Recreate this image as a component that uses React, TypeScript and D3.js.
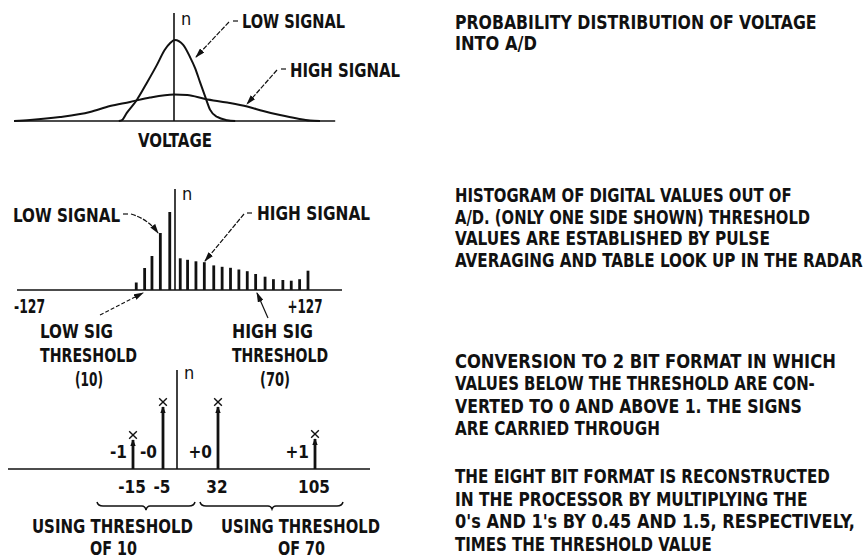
import React, { useLayoutEffect, useRef, useState } from 'react';
import * as d3 from 'd3';

// ---------- Panel 1: probability distribution of voltage (relative n, low-signal peak = 100)
const lowVoltage = [-1.38, -1.3, -1.18, -0.93, -0.68, -0.43, -0.23, -0.1, 0.02, 0.23, 0.4, 0.53, 0.65, 0.78, 0.9, 1.08, 1.33, 1.53];
const lowDensity = [0, 1, 10, 26, 47, 69, 88, 96, 100, 94, 79, 65, 48, 30, 14, 5, 1, 0];
const highVoltage = [-4, -3.6, -2.85, -2.1, -1.6, -1.1, -0.6, 0, 0.33, 0.78, 1.33, 1.83, 2.23, 2.65, 3.08, 3.4, 3.65];
const highDensity = [0, 1.2, 4.9, 11.1, 18.5, 23.5, 29, 32.7, 32.1, 27.2, 22.8, 17.9, 12.3, 7.4, 3.1, 0.6, 0];

// ---------- Panel 2: histogram of digital values out of A/D
const histValues = [-37, -29, -22, -14, -5, 5, 12, 20, 28, 37, 45, 53, 61, 69, 77, 86, 94, 103, 111, 119, 127];
const histCounts = [7.5, 22, 34, 57, 78, 31.7, 30.2, 28.7, 27.8, 24.6, 23.2, 22.2, 20.5, 18.8, 16, 13.3, 10.8, 10, 9.3, 10.8, 19.3];
const histTickValues = [-127, 127];
const histTickLabels = ['-127', '+127'];

// ---------- Panel 3: 2-bit format
const stemValues = [-15, -5, 32, 105];
const stemCodes = ['-1', '-0', '+0', '+1'];
const stemCounts = [31, 64, 64, 32];
const braceLabels = ['USING THRESHOLD', 'USING THRESHOLD'];
const braceSubLabels = ['OF 10', 'OF 70'];

// ---------- Right column text
const para1 = ['PROBABILITY DISTRIBUTION OF VOLTAGE', 'INTO A/D'];
const para2 = ['HISTOGRAM OF DIGITAL VALUES OUT OF', 'A/D. (ONLY ONE SIDE SHOWN) THRESHOLD', 'VALUES ARE ESTABLISHED BY PULSE', 'AVERAGING AND TABLE LOOK UP IN THE RADAR'];
const para3 = ['CONVERSION TO 2 BIT FORMAT IN WHICH', 'VALUES BELOW THE THRESHOLD ARE CON-', 'VERTED TO 0 AND ABOVE 1.  THE SIGNS', 'ARE CARRIED THROUGH'];
const para4 = ['THE EIGHT BIT FORMAT IS RECONSTRUCTED', 'IN THE PROCESSOR BY MULTIPLYING THE', "0's AND 1's BY 0.45 AND 1.5, RESPECTIVELY,", 'TIMES THE THRESHOLD VALUE'];

// layout: rendered line widths (px) of the right-column text
const para1W = [362, 82];
const para2W = [337, 355, 315, 408];
const para3W = [381, 360, 347, 205];
const para4W = [375, 353, 400, 257];

const FONT = "'Liberation Sans Narrow', 'DejaVu Sans Condensed', 'DejaVu Sans', sans-serif";
const INK = '#111';

// Text that is squeezed horizontally to a target width (measured, then scaled).
function T(props: { x: number; y: number; s: string; anchor?: string; size?: number; w?: number; weight?: string }) {
  const { x, y, s, anchor = 'start', size = 19, w, weight = 'bold' } = props;
  const ref = useRef<SVGTextElement>(null);
  const [k, setK] = useState(w ? 0.8 : 1);
  useLayoutEffect(() => {
    if (w && ref.current) {
      const n = ref.current.getComputedTextLength();
      if (n > 0) setK(w / n);
    }
  }, [w, s, size]);
  return (
    <text ref={ref} transform={`translate(${x},${y}) scale(${k},1)`} x={0} y={0} textAnchor={anchor}
      fontSize={size} fontFamily={FONT} fontWeight={weight} fill={INK}>{s}</text>
  );
}

export default function App() {
  // Panel 1 scales
  const xV = d3.scaleLinear().domain([-4, 4]).range([14, 334]);
  const yP = d3.scaleLinear().domain([0, 100]).range([121, 40]);
  const curve = d3.line<[number, number]>().x(d => xV(d[0])).y(d => yP(d[1])).curve(d3.curveMonotoneX);
  const lowPts = lowVoltage.map((v, i) => [v, lowDensity[i]] as [number, number]);
  const highPts = highVoltage.map((v, i) => [v, highDensity[i]] as [number, number]);

  // Panel 2 scales
  const xD = d3.scaleLinear().domain([-127, 127]).range([42, 308]);
  const yH = d3.scaleLinear().domain([0, 100]).range([290, 190]);

  // Panel 3 scales (schematic, piecewise)
  const xS = d3.scaleLinear().domain([-15, -5, 0, 32, 105]).range([133, 163, 177, 218, 315]);
  const yS = d3.scaleLinear().domain([0, 100]).range([469, 369]);
  const xMark = d3.symbol(d3.symbolX, 40)();

  const para = (lines: string[], widths: number[], y0: number, step: number, pk: string) =>
    lines.map((l, i) => <T key={pk + i} x={455} y={y0 + i * step} s={l} size={20} w={widths[i]} />);

  return (
    <svg width={866} height={560} style={{ position: 'absolute', left: 0, top: 0, background: '#fff' }}>
      <defs>
        <marker id="arr" viewBox="0 0 10 6" refX="9" refY="3" markerWidth="10" markerHeight="6" markerUnits="userSpaceOnUse" orient="auto">
          <path d="M0,0 L10,3 L0,6 z" fill={INK} />
        </marker>
        <marker id="arrS" viewBox="0 0 10 8" refX="9" refY="4" markerWidth="7" markerHeight="8" markerUnits="userSpaceOnUse" orient="auto">
          <path d="M0,0 L10,4 L0,8 z" fill={INK} />
        </marker>
      </defs>
      <rect x={0} y={0} width={866} height={560} fill="#fff" />

      {/* ---------- Panel 1 ---------- */}
      <line x1={xV(-4)} x2={xV(4.03)} y1={yP(0)} y2={yP(0)} stroke={INK} strokeWidth={1.5} />
      <line x1={xV(0)} x2={xV(0)} y1={yP(0)} y2={13} stroke={INK} strokeWidth={1.6} />
      <path d={curve(highPts) || ''} fill="none" stroke={INK} strokeWidth={2} />
      <path d={curve(lowPts) || ''} fill="none" stroke={INK} strokeWidth={2} />
      <T x={181} y={25} s="n" size={18} weight="normal" />
      <T x={242} y={28} s="LOW SIGNAL" w={103} />
      <T x={290} y={77} s="HIGH SIGNAL" w={110} />
      <T x={xV(0) + 1} y={147} s="VOLTAGE" anchor="middle" w={74} />
      <line x1={233} x2={238} y1={21} y2={21} stroke={INK} strokeWidth={1.2} />
      <path d="M229,22 L196,57" fill="none" stroke={INK} strokeWidth={1.2} strokeDasharray="5 1.5" markerEnd="url(#arr)" />
      <line x1={281} x2={286} y1={69} y2={69} stroke={INK} strokeWidth={1.2} />
      <path d="M277,70 L247,104" fill="none" stroke={INK} strokeWidth={1.2} strokeDasharray="5 1.5" markerEnd="url(#arr)" />

      {/* ---------- Panel 2 ---------- */}
      <line x1={17} x2={342} y1={yH(0)} y2={yH(0)} stroke={INK} strokeWidth={1.5} />
      {histValues.map((v, i) => (
        <rect key={'h' + i} x={xD(v) - 1.4} y={yH(histCounts[i])} width={2.8} height={yH(0) - yH(histCounts[i])} fill={INK} />
      ))}
      <line x1={xD(0)} x2={xD(0)} y1={yH(0)} y2={yH(101)} stroke={INK} strokeWidth={1.6} />
      <T x={182} y={200} s="n" size={18} weight="normal" />
      <T x={13} y={222} s="LOW SIGNAL" w={107} />
      <T x={257} y={220} s="HIGH SIGNAL" w={113} />
      <line x1={123} x2={128} y1={214} y2={214} stroke={INK} strokeWidth={1.2} />
      <path d="M131,214 Q148,219 158,233" fill="none" stroke={INK} strokeWidth={1.2} strokeDasharray="5 1.5" markerEnd="url(#arr)" />
      <line x1={247} x2={252} y1={213} y2={213} stroke={INK} strokeWidth={1.2} />
      <path d="M244,214 L205,261" fill="none" stroke={INK} strokeWidth={1.2} strokeDasharray="5 1.5" markerEnd="url(#arr)" />
      <T x={xD(histTickValues[0]) + 3} y={313} s={histTickLabels[0]} anchor="end" w={31} />
      <T x={xD(histTickValues[1]) - 3} y={313} s={histTickLabels[1]} anchor="middle" w={35} />
      {/* thresholds */}
      <path d="M100,315 L143,293" fill="none" stroke={INK} strokeWidth={1.1} strokeDasharray="4 2" markerEnd="url(#arr)" />
      <path d="M268,318 L257,293" fill="none" stroke={INK} strokeWidth={1.2} markerEnd="url(#arr)" />
      <T x={40} y={338} s="LOW SIG" w={73} />
      <T x={40} y={362} s="THRESHOLD" w={97} />
      <T x={89} y={386} s="(10)" anchor="middle" w={28} />
      <T x={232} y={338} s="HIGH SIG" w={81} />
      <T x={232} y={362} s="THRESHOLD" w={96} />
      <T x={275} y={386} s="(70)" anchor="middle" w={30} />

      {/* ---------- Panel 3 ---------- */}
      <line x1={8} x2={370} y1={yS(0)} y2={yS(0)} stroke={INK} strokeWidth={1.5} />
      <line x1={xS(0)} x2={xS(0)} y1={yS(0)} y2={yS(99)} stroke={INK} strokeWidth={1.6} />
      <T x={184} y={379} s="n" size={18} weight="normal" />
      {stemValues.map((v, i) => (
        <g key={'s' + i}>
          <line x1={xS(v)} x2={xS(v)} y1={yS(0)} y2={yS(stemCounts[i]) + 2} stroke={INK} strokeWidth={2.8} markerEnd="url(#arrS)" />
          <path d={xMark || ''} transform={`translate(${xS(v)},${yS(stemCounts[i]) - 3})`} fill="none" stroke={INK} strokeWidth={1.4} />
          <T x={xS(v) - 6} y={458} s={stemCodes[i]} anchor="end" size={17} />
          <T x={xS(v) - 1} y={493} s={String(v)} anchor="middle" size={17} />
        </g>
      ))}
      <path d="M97,502 Q98,506 103,506 L142,506 Q145,506 146,510 Q147,506 150,506 L189,506 Q194,506 195,502" fill="none" stroke={INK} strokeWidth={1.5} />
      <path d="M200,502 Q201,506 206,506 L268,506 Q271,506 272,509 Q273,506 276,506 L337,506 Q342,506 343,502" fill="none" stroke={INK} strokeWidth={1.5} />
      <T x={112.5} y={533} s={braceLabels[0]} anchor="middle" size={19} w={161} />
      <T x={113.5} y={555} s={braceSubLabels[0]} anchor="middle" size={19} w={47} />
      <T x={300.5} y={533} s={braceLabels[1]} anchor="middle" size={19} w={159} />
      <T x={301.5} y={555} s={braceSubLabels[1]} anchor="middle" size={19} w={47} />

      {/* ---------- Right column ---------- */}
      {para(para1, para1W, 28.5, 21.7, 'p1')}
      {para(para2, para2W, 202, 21.7, 'p2')}
      {para(para3, para3W, 367.5, 22.5, 'p3')}
      {para(para4, para4W, 483, 22.6, 'p4')}
    </svg>
  );
}
